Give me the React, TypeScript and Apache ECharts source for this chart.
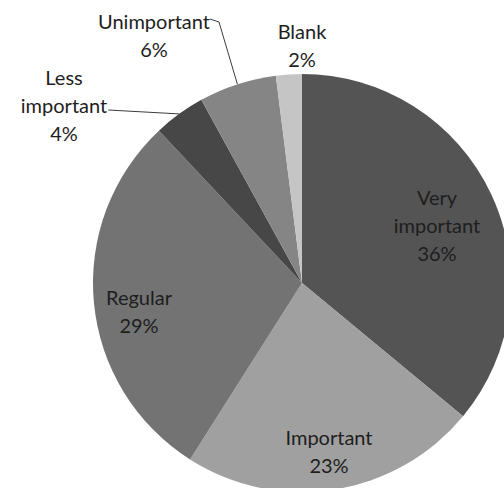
import React, { useEffect, useRef } from 'react';
import * as echarts from 'echarts';

const categories = ['Very important', 'Important', 'Regular', 'Less important', 'Unimportant', 'Blank'];
const percentages = [36, 23, 29, 4, 6, 2];
const sliceColors = ['#545454', '#a0a0a0', '#737373', '#474747', '#858585', '#c5c5c5'];
const withLeaderLine = [false, false, false, true, true, false];

// label centre positions (layout only)
const labelCenters: [number, number][] = [
  [437, 225],
  [329, 451],
  [139, 311],
  [64, 105],
  [154, 35],
  [302, 45],
];

const LINE_H = 28;

export default function App() {
  const ref = useRef<HTMLDivElement>(null);
  useEffect(() => {
    if (!ref.current) return;
    const chart = echarts.init(ref.current, null, { renderer: 'svg' });
    chart.setOption({
      animation: false,
      backgroundColor: '#ffffff',
      series: [
        {
          type: 'pie',
          center: [302, 283],
          radius: 209,
          startAngle: 90,
          clockwise: true,
          avoidLabelOverlap: false,
          silent: true,
          itemStyle: { borderWidth: 0 },
          label: {
            show: true,
            position: 'outside',
            fontFamily: 'Lato',
            fontSize: 20,
            lineHeight: LINE_H,
            color: '#1e1e1e',
            align: 'center',
            formatter: (p: any) => `${String(p.name).replace(' ', '\n')}\n${p.value}%`,
          },
          labelLine: {
            show: false,
            length: 10,
            length2: 10,
            lineStyle: { color: '#3c3c3c', width: 1 },
          },
          labelLayout: (params: any) => {
            const i = params.dataIndex;
            const [cx, cy] = labelCenters[i];
            const w = params.labelRect.width;
            const h = params.labelRect.height;
            const res: any = { x: cx, y: cy, align: 'center', verticalAlign: 'middle' };
            if (withLeaderLine[i] && params.labelLinePoints) {
              const p0 = params.labelLinePoints[0];
              const right = cx + w / 2;
              const top = cy - h / 2;
              if (i === 4) {
                res.labelLinePoints = [p0, [right + 9, top + 15], [right, top + 12]];
              } else {
                const end = [right + 1, cy + 5];
                res.labelLinePoints = [p0, end, end];
              }
            }
            return res;
          },
          data: categories.map((name, i) => ({
            name,
            value: percentages[i],
            itemStyle: { color: sliceColors[i] },
            labelLine: { show: withLeaderLine[i] },
          })),
        },
      ],
    });
    return () => chart.dispose();
  }, []);
  return (
    <div
      ref={ref}
      style={{ position: 'absolute', left: 0, top: 0, width: 504, height: 488 }}
    />
  );
}
